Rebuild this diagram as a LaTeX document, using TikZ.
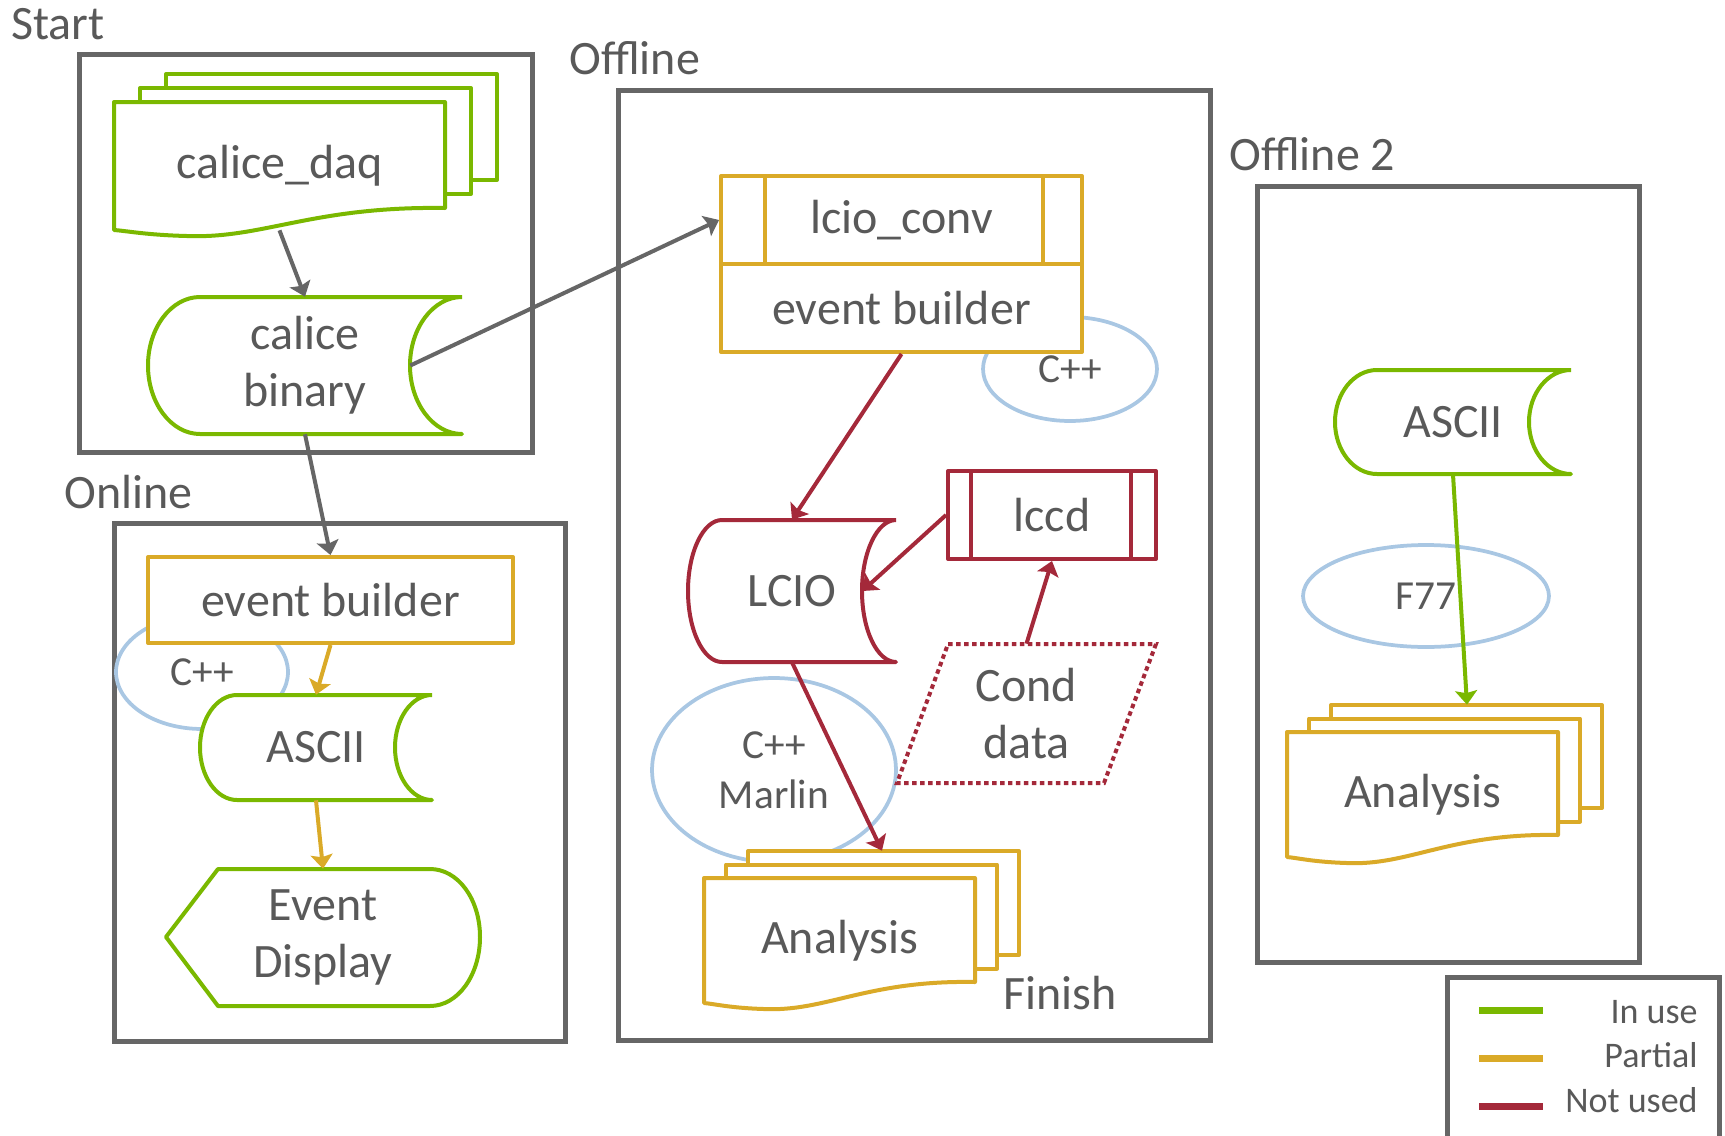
\documentclass[tikz,border=0pt]{standalone}
\usepackage{fontspec}
\setmainfont{Carlito}
\usetikzlibrary{arrows.meta, shapes.geometric, calc}
\definecolor{FrameGray}{HTML}{666666}
\definecolor{TextGray}{HTML}{595959}
\definecolor{InUse}{HTML}{7AB800}
\definecolor{Partial}{HTML}{DAAA28}
\definecolor{NotUsed}{HTML}{A4293A}
\definecolor{LangBlue}{HTML}{A9C7E3}

\newcommand{\StoredData}[6]{%
  \draw[outline, draw=#1]
    (#4,#3) -- ({#2+#6},#3)
    .. controls ({#2+0.45*#6},#3) and (#2,{#3+0.224*(#5-#3)}) .. (#2,{(#3+#5)/2})
    .. controls (#2,{#5-0.224*(#5-#3)}) and ({#2+0.45*#6},#5) .. ({#2+#6},#5)
    -- (#4,#5)
    .. controls ({#4-0.55*#6},#5) and ({#4-#6},{#5-0.224*(#5-#3)}) .. ({#4-#6},{(#3+#5)/2})
    .. controls ({#4-#6},{#3+0.224*(#5-#3)}) and ({#4-0.55*#6},#3) .. (#4,#3);}

\newcommand{\DocStack}[8]{%
  \draw[outline, draw=#1] ({#2+2*#7},{#3-2*#8}) rectangle ({#4+2*#7},{#5-2*#8});
  \draw[outline, draw=#1] ({#2+#7},{#3-#8}) rectangle ({#4+#7},{#5-#8});
  \draw[outline, draw=#1] (#2,#3) -- (#4,#3) -- (#4,#5)
    .. controls ({#2+0.6*(#4-#2)},{#5-2}) and ({#2+0.45*(#4-#2)},{#6+9}) .. ({#2+0.22*(#4-#2)},{#6+6})
    .. controls ({#2+0.1*(#4-#2)},{#6+5}) and ({#2+0.04*(#4-#2)},{#6+1}) .. (#2,#6) -- cycle;}

\begin{document}
\begin{tikzpicture}[x=0.02cm, y=-0.02cm,
    every node/.style={text=TextGray, font=\fontsize{27.3}{32.4}\selectfont, align=center, inner sep=0pt},
    frame/.style={draw=FrameGray, line width=0.1cm},
    outline/.style={line width=0.08cm, fill=white, line join=round},
    lang/.style={ellipse, draw=LangBlue, line width=0.075cm, font=\fontsize{23.5}{28.4}\selectfont},
    condline/.style={draw=NotUsed, line width=0.08cm, dash pattern=on 0.09cm off 0.07cm},
    flow/.style={line width=0.08cm, -{Stealth[length=0.28cm, width=0.44cm, inset=0.05cm]}},
    title/.style={anchor=base west},
    legend/.style={anchor=base east, font=\fontsize{20.5}{24}\selectfont}]
  \useasboundingbox (0,0) rectangle (1725,1136);
  \clip (0,0) rectangle (1725,1136);

  % group frames
  \draw[frame] (79,54) rectangle (532,452);
  \draw[frame] (114,523) rectangle (565,1041);
  \draw[frame] (618,90) rectangle (1210,1040);
  \draw[frame] (1257,186) rectangle (1639,962);
  \node (start) [title] at (11,39) {Start};
  \node (online) [title] at (64,508) {Online};
  \node (offline) [title] at (569,74) {Offline};
  \node (offline2) [title] at (1229,170) {Offline 2};

  % language bubbles (behind the boxes)
  \node (cppon) [lang, minimum width=3.44cm, minimum height=2.28cm] at (202,672) {C++};
  \node (cppoff) [lang, minimum width=3.48cm, minimum height=2.08cm] at (1070,369) {C++};
  \node (marlin) [lang, minimum width=4.88cm, minimum height=3.68cm] at (774,770) {C++\\Marlin};
  \node (f77) [lang, minimum width=4.92cm, minimum height=2.04cm] at (1426,596) {F77};

  % start
  \DocStack{InUse}{114}{102}{445}{208}{230}{26}{14}
  \node (daq) [minimum width=6.62cm, minimum height=2.56cm] at (279.5,166) {calice\_daq};
  \StoredData{InUse}{148}{297}{462}{434}{52}
  \node (binary) [minimum width=6.28cm, minimum height=2.74cm] at (305,365.5) {calice\\binary};

  % online
  \node (evon) [outline, draw=Partial, minimum width=7.3cm, minimum height=1.72cm] at (330.5,600) {event builder};
  \StoredData{InUse}{200}{695}{432}{800}{37}
  \node (asciion) [minimum width=4.64cm, minimum height=2.1cm] at (316,747.5) {ASCII};
  \draw[outline, draw=InUse] (166,937) -- (218,869) -- (430,869)
    .. controls (458,869) and (480,899) .. (480,937)
    .. controls (480,975) and (458,1006) .. (430,1006) -- (218,1006) -- cycle;
  \node (display) [minimum width=6.28cm, minimum height=2.74cm] at (323,937.5) {Event\\Display};

  % offline
  \node (lcioconv) [outline, draw=Partial, minimum width=7.22cm, minimum height=1.76cm] at (901.5,220) {lcio\_conv};
  \node (evbuild) [outline, draw=Partial, minimum width=7.22cm, minimum height=1.76cm] at (901.5,308) {event builder};
  \draw[Partial, line width=0.08cm] ([xshift=0.92cm]lcioconv.north west) -- ([xshift=0.92cm]lcioconv.south west);
  \draw[Partial, line width=0.08cm] ([xshift=-0.82cm]lcioconv.north east) -- ([xshift=-0.82cm]lcioconv.south east);
  \StoredData{NotUsed}{688}{520}{896}{662}{34}
  \node (lcio) [minimum width=4.16cm, minimum height=2.84cm] at (792,591) {LCIO};
  \node (lccd) [outline, draw=NotUsed, minimum width=4.16cm, minimum height=1.76cm] at (1052,515) {lccd};
  \draw[NotUsed, line width=0.08cm] ([xshift=0.5cm]lccd.north west) -- ([xshift=0.5cm]lccd.south west);
  \draw[NotUsed, line width=0.08cm] ([xshift=-0.54cm]lccd.north east) -- ([xshift=-0.54cm]lccd.south east);
  \draw[condline] (948,644) -- (1156,644) -- (1104,783) -- (897,783) -- cycle;
  \node (cond) [minimum width=5.18cm, minimum height=2.78cm] at (1026.5,713.5) {Cond\\data};
  \DocStack{Partial}{704}{878}{975}{982}{1003}{22}{13.5}
  \node (ana) [minimum width=5.42cm, minimum height=2.5cm] at (839.5,940.5) {Analysis};
  \node (finish) [anchor=west] at (1003,993) {Finish};

  % offline 2
  \StoredData{InUse}{1335}{370}{1571}{474}{42}
  \node (ascii2) [minimum width=4.72cm, minimum height=2.08cm] at (1453,422) {ASCII};
  \DocStack{Partial}{1287}{732}{1558}{835}{857}{22}{13.5}
  \node (ana2) [minimum width=5.42cm, minimum height=2.5cm] at (1422.5,794.5) {Analysis};

  % connectors
  \draw[flow, FrameGray] (daq.south) -- (binary.north);
  \draw[flow, FrameGray] ([xshift=-1.04cm]binary.east) -- (lcioconv.west);
  \draw[flow, FrameGray] (binary.south) -- (evon.north);
  \draw[flow, Partial] (evon.south) -- (asciion.north);
  \draw[flow, Partial] (asciion.south) -- (display.north);
  \draw[flow, NotUsed] (evbuild.south) -- (lcio.north);
  \draw[flow, NotUsed] (lccd.west) -- ([xshift=-0.68cm]lcio.east);
  \draw[flow, NotUsed] (cond.north) -- (lccd.south);
  \draw[flow, NotUsed] (lcio.south) -- ([xshift=0.85cm, yshift=0.54cm]ana.north);
  \draw[flow, InUse] (ascii2.south) -- ([xshift=0.89cm, yshift=0.54cm]ana2.north);

  % legend
  \draw[frame] (1447,977) rectangle (1719,1150);
  \draw[InUse, line width=0.14cm] (1479,1010) -- (1543,1010);
  \draw[Partial, line width=0.14cm] (1479,1058) -- (1543,1058);
  \draw[NotUsed, line width=0.14cm] (1479,1106) -- (1543,1106);
  \node (inuse) [legend] at (1698,1023) {In use};
  \node (partial) [legend] at (1698,1067) {Partial};
  \node (notused) [legend] at (1698,1112) {Not used};
\end{tikzpicture}
\end{document}
